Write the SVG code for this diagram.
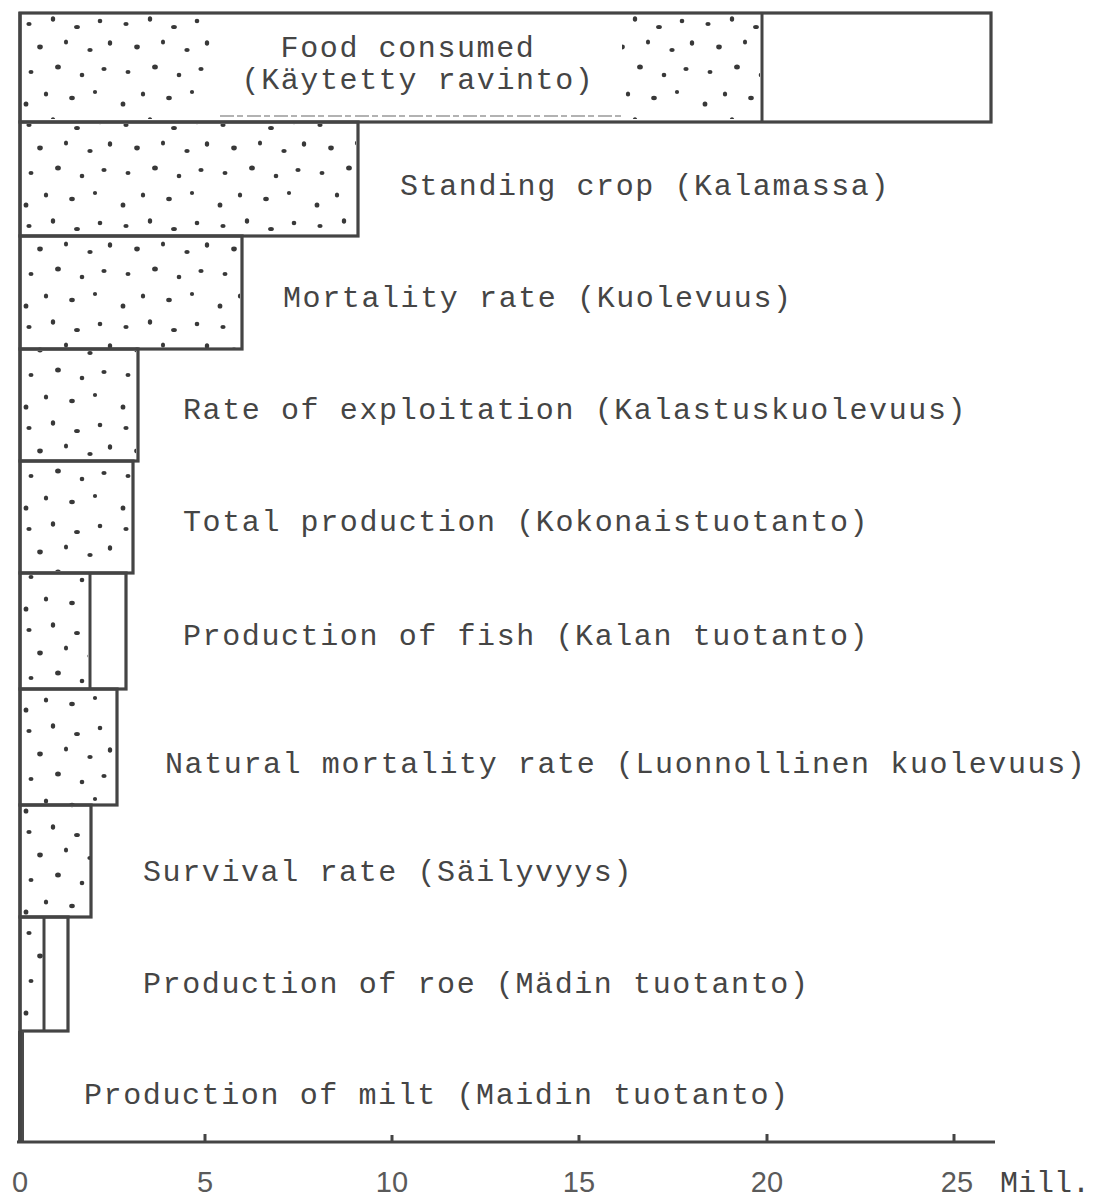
<svg xmlns="http://www.w3.org/2000/svg" width="1106" height="1201" viewBox="0 0 1106 1201">
<style>
.bar{fill:none;stroke:#444;stroke-width:3.2}
.div{stroke:#444;stroke-width:3}
.lbl{font-family:"Liberation Mono","Courier New",monospace;font-size:30px;letter-spacing:1.6px;fill:#454545}
.num{font-family:"Liberation Sans",Arial,sans-serif;font-size:29px;fill:#5a5a5a}
.dots{fill:url(#stipple);stroke:none}
</style>
<defs>
<pattern id="stipple" patternUnits="userSpaceOnUse" x="20" y="12" width="97" height="101">
<g fill="#383838">
<ellipse cx="9" cy="12" rx="2.6" ry="2.1"/>
<ellipse cx="33" cy="7" rx="2.2" ry="2.7"/>
<ellipse cx="57" cy="15" rx="2.9" ry="2.1"/>
<ellipse cx="80" cy="9" rx="2.3" ry="2.3"/>
<ellipse cx="20" cy="35" rx="2.8" ry="2.4"/>
<ellipse cx="46" cy="30" rx="2.1" ry="2.6"/>
<ellipse cx="70" cy="38" rx="2.7" ry="2"/>
<ellipse cx="90" cy="31" rx="2.2" ry="2.7"/>
<ellipse cx="11" cy="60" rx="2.5" ry="2.1"/>
<ellipse cx="38" cy="55" rx="2.9" ry="2.5"/>
<ellipse cx="62" cy="63" rx="2.3" ry="2.3"/>
<ellipse cx="84" cy="57" rx="2.6" ry="2"/>
<ellipse cx="26" cy="82" rx="2.2" ry="2.5"/>
<ellipse cx="52" cy="86" rx="2.8" ry="2.2"/>
<ellipse cx="75" cy="80" rx="2.1" ry="2.1"/>
<ellipse cx="6" cy="92" rx="2.4" ry="2.6"/>
</g>
</pattern>
</defs>
<rect width="1106" height="1201" fill="#fff"/>

<g id="bar-food">
<rect class="dots" x="22" y="15" width="195" height="104"/>
<rect class="dots" x="622" y="15" width="138" height="104"/>
<rect class="bar" x="20" y="13" width="971" height="109"/>
<line class="div" x1="762" y1="13" x2="762" y2="122"/>
<line x1="220" y1="116" x2="625" y2="116" stroke="#999" stroke-width="1.3" stroke-dasharray="14 3 6 4"/>
<text class="lbl" x="408" y="57" text-anchor="middle">Food consumed</text>
<text class="lbl" x="418" y="89" text-anchor="middle">(Käytetty ravinto)</text>
</g>

<g id="bar-standing">
<rect class="dots" x="22" y="124" width="334" height="111"/>
<rect class="bar" x="20" y="122" width="338" height="114"/>
<text class="lbl" x="400" y="195">Standing crop (Kalamassa)</text>
</g>

<g id="bar-mortality">
<rect class="dots" x="22" y="238" width="218" height="110"/>
<rect class="bar" x="20" y="236" width="222" height="113"/>
<text class="lbl" x="283" y="307">Mortality rate (Kuolevuus)</text>
</g>

<g id="bar-exploitation">
<rect class="dots" x="22" y="351" width="114" height="109"/>
<rect class="bar" x="20" y="349" width="118" height="112"/>
<text class="lbl" x="183" y="419">Rate of exploitation (Kalastuskuolevuus)</text>
</g>

<g id="bar-total">
<rect class="dots" x="22" y="463" width="109" height="108"/>
<rect class="bar" x="20" y="461" width="113" height="112"/>
<text class="lbl" x="183" y="531">Total production (Kokonaistuotanto)</text>
</g>

<g id="bar-fish">
<rect class="dots" x="22" y="575" width="66" height="113"/>
<rect class="bar" x="20" y="573" width="106" height="116"/>
<line class="div" x1="90" y1="573" x2="90" y2="689"/>
<text class="lbl" x="183" y="645">Production of fish (Kalan tuotanto)</text>
</g>

<g id="bar-natural">
<rect class="dots" x="22" y="691" width="93" height="113"/>
<rect class="bar" x="20" y="689" width="97" height="116"/>
<text class="lbl" x="165" y="773">Natural mortality rate (Luonnollinen kuolevuus)</text>
</g>

<g id="bar-survival">
<rect class="dots" x="22" y="807" width="68" height="108"/>
<rect class="bar" x="20" y="805" width="71" height="112"/>
<text class="lbl" x="143" y="881">Survival rate (Säilyvyys)</text>
</g>

<g id="bar-roe">
<rect class="dots" x="22" y="919" width="21" height="111"/>
<rect class="bar" x="20" y="917" width="48" height="114"/>
<line class="div" x1="44" y1="917" x2="44" y2="1031"/>
<text class="lbl" x="143" y="993">Production of roe (Mädin tuotanto)</text>
</g>

<g id="bar-milt">
<rect x="18" y="1031" width="6" height="111" fill="#4a4a4a"/>
<text class="lbl" x="84" y="1104">Production of milt (Maidin tuotanto)</text>
</g>

<g id="axis">
<line x1="20" y1="12" x2="20" y2="1143" stroke="#444" stroke-width="3.2"/>
<line x1="17" y1="1142" x2="995" y2="1142" stroke="#444" stroke-width="3.2"/>
<g stroke="#444" stroke-width="3">
<line x1="205" y1="1134" x2="205" y2="1142"/>
<line x1="392" y1="1135" x2="392" y2="1142"/>
<line x1="579" y1="1135" x2="579" y2="1142"/>
<line x1="767" y1="1134" x2="767" y2="1142"/>
<line x1="954" y1="1134" x2="954" y2="1142"/>
</g>
<text class="num" x="20" y="1192" text-anchor="middle">0</text>
<text class="num" x="205" y="1192" text-anchor="middle">5</text>
<text class="num" x="392" y="1192" text-anchor="middle">10</text>
<text class="num" x="579" y="1192" text-anchor="middle">15</text>
<text class="num" x="767" y="1192" text-anchor="middle">20</text>
<text class="num" x="957" y="1192" text-anchor="middle">25</text>
<text class="lbl" x="1000" y="1192" style="letter-spacing:0px">Mill.</text>
</g>
</svg>
